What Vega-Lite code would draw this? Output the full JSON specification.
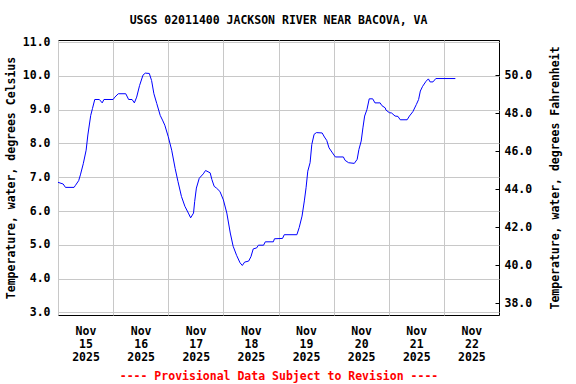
{
  "$schema": "https://vega.github.io/schema/vega-lite/v6.json",
  "width": 441,
  "height": 275,
  "autosize": {"type": "none"},
  "padding": {"top": 40, "left": 58, "right": 77, "bottom": 69},
  "background": "white",
  "title": {
    "text": "USGS 02011400 JACKSON RIVER NEAR BACOVA, VA",
    "font": "DejaVu Sans Mono",
    "fontWeight": "bold",
    "fontSize": 11.5,
    "color": "black",
    "anchor": "middle",
    "offset": 10
  },
  "layer": [
    {
      "data": {
        "values": [
          {"time": "2025-11-15T00:00", "temp": 6.85},
          {"time": "2025-11-15T02:15", "temp": 6.8},
          {"time": "2025-11-15T03:15", "temp": 6.7},
          {"time": "2025-11-15T07:00", "temp": 6.7},
          {"time": "2025-11-15T07:30", "temp": 6.75},
          {"time": "2025-11-15T09:00", "temp": 6.9},
          {"time": "2025-11-15T09:45", "temp": 7.07},
          {"time": "2025-11-15T11:00", "temp": 7.4},
          {"time": "2025-11-15T12:15", "temp": 7.8},
          {"time": "2025-11-15T13:00", "temp": 8.25},
          {"time": "2025-11-15T14:15", "temp": 8.83},
          {"time": "2025-11-15T15:00", "temp": 9.03},
          {"time": "2025-11-15T16:00", "temp": 9.3},
          {"time": "2025-11-15T18:00", "temp": 9.3},
          {"time": "2025-11-15T19:15", "temp": 9.2},
          {"time": "2025-11-15T20:00", "temp": 9.3},
          {"time": "2025-11-16T00:00", "temp": 9.3},
          {"time": "2025-11-16T00:45", "temp": 9.37},
          {"time": "2025-11-16T02:15", "temp": 9.47},
          {"time": "2025-11-16T05:30", "temp": 9.47},
          {"time": "2025-11-16T06:45", "temp": 9.3},
          {"time": "2025-11-16T08:15", "temp": 9.3},
          {"time": "2025-11-16T09:15", "temp": 9.2},
          {"time": "2025-11-16T10:15", "temp": 9.37},
          {"time": "2025-11-16T11:30", "temp": 9.71},
          {"time": "2025-11-16T13:00", "temp": 10.02},
          {"time": "2025-11-16T14:00", "temp": 10.08},
          {"time": "2025-11-16T15:45", "temp": 10.07},
          {"time": "2025-11-16T16:45", "temp": 9.86},
          {"time": "2025-11-16T17:45", "temp": 9.47},
          {"time": "2025-11-16T19:00", "temp": 9.18},
          {"time": "2025-11-16T20:30", "temp": 8.83},
          {"time": "2025-11-16T21:30", "temp": 8.69},
          {"time": "2025-11-16T22:30", "temp": 8.54},
          {"time": "2025-11-17T00:00", "temp": 8.2},
          {"time": "2025-11-17T01:30", "temp": 7.8},
          {"time": "2025-11-17T03:00", "temp": 7.26},
          {"time": "2025-11-17T04:15", "temp": 6.87},
          {"time": "2025-11-17T05:45", "temp": 6.43},
          {"time": "2025-11-17T07:15", "temp": 6.14},
          {"time": "2025-11-17T08:45", "temp": 5.94},
          {"time": "2025-11-17T09:45", "temp": 5.8},
          {"time": "2025-11-17T11:00", "temp": 5.94},
          {"time": "2025-11-17T11:30", "temp": 6.28},
          {"time": "2025-11-17T12:15", "temp": 6.68},
          {"time": "2025-11-17T13:30", "temp": 6.97},
          {"time": "2025-11-17T15:15", "temp": 7.1},
          {"time": "2025-11-17T16:15", "temp": 7.2},
          {"time": "2025-11-17T18:15", "temp": 7.13},
          {"time": "2025-11-17T19:00", "temp": 6.93},
          {"time": "2025-11-17T20:00", "temp": 6.73},
          {"time": "2025-11-17T21:00", "temp": 6.68},
          {"time": "2025-11-17T22:30", "temp": 6.58},
          {"time": "2025-11-18T00:00", "temp": 6.33},
          {"time": "2025-11-18T01:30", "temp": 5.94},
          {"time": "2025-11-18T03:00", "temp": 5.35},
          {"time": "2025-11-18T04:15", "temp": 4.96},
          {"time": "2025-11-18T05:45", "temp": 4.69},
          {"time": "2025-11-18T07:15", "temp": 4.47},
          {"time": "2025-11-18T08:15", "temp": 4.39},
          {"time": "2025-11-18T09:15", "temp": 4.49},
          {"time": "2025-11-18T11:00", "temp": 4.52},
          {"time": "2025-11-18T12:00", "temp": 4.65},
          {"time": "2025-11-18T13:00", "temp": 4.88},
          {"time": "2025-11-18T14:30", "temp": 4.91},
          {"time": "2025-11-18T15:15", "temp": 4.99},
          {"time": "2025-11-18T17:30", "temp": 4.99},
          {"time": "2025-11-18T18:15", "temp": 5.09},
          {"time": "2025-11-18T21:45", "temp": 5.09},
          {"time": "2025-11-18T22:15", "temp": 5.18},
          {"time": "2025-11-19T01:45", "temp": 5.19},
          {"time": "2025-11-19T02:30", "temp": 5.3},
          {"time": "2025-11-19T08:00", "temp": 5.3},
          {"time": "2025-11-19T09:00", "temp": 5.51},
          {"time": "2025-11-19T10:15", "temp": 5.85},
          {"time": "2025-11-19T11:15", "temp": 6.3},
          {"time": "2025-11-19T12:00", "temp": 6.69},
          {"time": "2025-11-19T12:45", "temp": 7.18},
          {"time": "2025-11-19T13:45", "temp": 7.43},
          {"time": "2025-11-19T14:30", "temp": 7.97},
          {"time": "2025-11-19T15:30", "temp": 8.27},
          {"time": "2025-11-19T16:30", "temp": 8.32},
          {"time": "2025-11-19T19:00", "temp": 8.31},
          {"time": "2025-11-19T20:00", "temp": 8.19},
          {"time": "2025-11-19T21:00", "temp": 8.09},
          {"time": "2025-11-19T22:00", "temp": 7.87},
          {"time": "2025-11-19T23:30", "temp": 7.72},
          {"time": "2025-11-20T00:45", "temp": 7.6},
          {"time": "2025-11-20T04:15", "temp": 7.6},
          {"time": "2025-11-20T05:00", "temp": 7.5},
          {"time": "2025-11-20T06:30", "temp": 7.43},
          {"time": "2025-11-20T09:00", "temp": 7.41},
          {"time": "2025-11-20T10:15", "temp": 7.53},
          {"time": "2025-11-20T11:00", "temp": 7.82},
          {"time": "2025-11-20T12:00", "temp": 8.07},
          {"time": "2025-11-20T12:45", "temp": 8.46},
          {"time": "2025-11-20T13:30", "temp": 8.81},
          {"time": "2025-11-20T14:30", "temp": 9.0},
          {"time": "2025-11-20T15:30", "temp": 9.32},
          {"time": "2025-11-20T17:00", "temp": 9.32},
          {"time": "2025-11-20T18:00", "temp": 9.2},
          {"time": "2025-11-20T20:15", "temp": 9.2},
          {"time": "2025-11-20T21:00", "temp": 9.12},
          {"time": "2025-11-20T22:30", "temp": 9.05},
          {"time": "2025-11-20T22:45", "temp": 8.99},
          {"time": "2025-11-21T00:15", "temp": 8.91},
          {"time": "2025-11-21T01:15", "temp": 8.9},
          {"time": "2025-11-21T02:45", "temp": 8.81},
          {"time": "2025-11-21T04:00", "temp": 8.8},
          {"time": "2025-11-21T05:00", "temp": 8.7},
          {"time": "2025-11-21T08:00", "temp": 8.7},
          {"time": "2025-11-21T09:00", "temp": 8.81},
          {"time": "2025-11-21T10:30", "temp": 8.94},
          {"time": "2025-11-21T12:00", "temp": 9.15},
          {"time": "2025-11-21T13:00", "temp": 9.3},
          {"time": "2025-11-21T13:45", "temp": 9.55},
          {"time": "2025-11-21T14:45", "temp": 9.69},
          {"time": "2025-11-21T16:15", "temp": 9.84},
          {"time": "2025-11-21T17:15", "temp": 9.91},
          {"time": "2025-11-21T18:00", "temp": 9.82},
          {"time": "2025-11-21T19:15", "temp": 9.82},
          {"time": "2025-11-21T20:30", "temp": 9.92},
          {"time": "2025-11-22T05:00", "temp": 9.92}
        ]
      },
      "mark": {"type": "line", "color": "#0000ff", "strokeWidth": 1, "clip": true},
      "encoding": {
        "x": {
          "field": "time",
          "type": "temporal",
          "scale": {
            "domain": [
              {"year": 2025, "month": 11, "date": 15},
              {"year": 2025, "month": 11, "date": 23}
            ],
            "nice": false
          },
          "axis": {
            "values": [
              {"year": 2025, "month": 11, "date": 15},
              {"year": 2025, "month": 11, "date": 16},
              {"year": 2025, "month": 11, "date": 17},
              {"year": 2025, "month": 11, "date": 18},
              {"year": 2025, "month": 11, "date": 19},
              {"year": 2025, "month": 11, "date": 20},
              {"year": 2025, "month": 11, "date": 21},
              {"year": 2025, "month": 11, "date": 22}
            ],
            "labelExpr": "[timeFormat(datum.value, '%b'), timeFormat(datum.value, '%d'), timeFormat(datum.value, '%Y')]",
            "labelOffset": 27.5,
            "labelLineHeight": 13,
            "labelBaseline": "top",
            "labelPadding": 10,
            "labelFlush": false,
            "labelOverlap": false,
            "ticks": false,
            "tickSize": 0,
            "grid": true,
            "title": "---- Provisional Data Subject to Revision ----",
            "titleColor": "#ff0000",
            "titlePadding": 8
          }
        },
        "y": {
          "field": "temp",
          "type": "quantitative",
          "scale": {"domain": [2.925, 11.06], "nice": false, "zero": false},
          "axis": {
            "values": [3, 4, 5, 6, 7, 8, 9, 10, 11],
            "format": ".1f",
            "ticks": false,
            "tickSize": 0,
            "labelPadding": 8,
            "grid": true,
            "title": "Temperature, water, degrees Celsius",
            "titlePadding": 6
          }
        }
      }
    },
    {
      "data": {"values": [{"degF": 38}, {"degF": 50}]},
      "mark": {"type": "rule", "opacity": 0},
      "encoding": {
        "y": {
          "field": "degF",
          "type": "quantitative",
          "scale": {"domain": [37.39, 51.84], "nice": false, "zero": false},
          "axis": {
            "orient": "right",
            "values": [38, 40, 42, 44, 46, 48, 50],
            "format": ".1f",
            "grid": false,
            "ticks": true,
            "tickSize": -4,
            "tickColor": "black",
            "labelPadding": 9,
            "title": "Temperature, water, degrees Fahrenheit",
            "titleAngle": 270,
            "titleBaseline": "bottom",
            "titlePadding": 29
          }
        }
      }
    }
  ],
  "resolve": {"scale": {"y": "independent"}, "axis": {"y": "independent"}},
  "config": {
    "view": {"stroke": "black", "strokeWidth": 1},
    "axis": {
      "domain": false,
      "labelFont": "DejaVu Sans Mono",
      "labelFontWeight": "bold",
      "labelFontSize": 11.5,
      "labelColor": "black",
      "titleFont": "DejaVu Sans Mono",
      "titleFontWeight": "bold",
      "titleFontSize": 11.5,
      "titleColor": "black",
      "gridColor": "#c8c8c8",
      "gridOpacity": 1,
      "gridWidth": 1
    }
  }
}
